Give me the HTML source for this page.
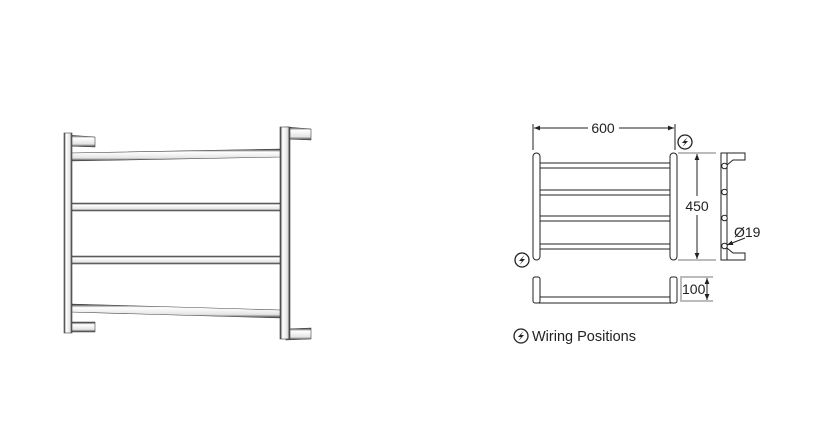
<!DOCTYPE html>
<html><head><style>
html,body{margin:0;padding:0;background:#fff;}
svg{display:block;}
text{font-family:"Liberation Sans",sans-serif;fill:#222;}
</style></head><body>
<svg width="840" height="435" viewBox="0 0 840 435" xmlns="http://www.w3.org/2000/svg">
<defs>
<linearGradient id="gv" x1="0" x2="1" y1="0" y2="0">
<stop offset="0" stop-color="#222"/><stop offset="0.25" stop-color="#fff"/><stop offset="0.75" stop-color="#e4e4e4"/><stop offset="1" stop-color="#222"/>
</linearGradient>
<linearGradient id="gh" x1="0" x2="0" y1="0" y2="1">
<stop offset="0" stop-color="#222"/><stop offset="0.25" stop-color="#fff"/><stop offset="0.75" stop-color="#e4e4e4"/><stop offset="1" stop-color="#333"/>
</linearGradient>
<marker id="ar" viewBox="0 0 10 10" refX="10" refY="5" markerWidth="6" markerHeight="6" orient="auto-start-reverse"><path d="M0,1 L10,5 L0,9 z" fill="#222"/></marker>
<symbol id="bolt" viewBox="-8 -8 16 16"><circle r="7" fill="#fff" stroke="#222" stroke-width="1.3"/><path d="M2.5,-5 L-3,1 L0,1 L-2.5,5 L3,-1 L0,-1 z" fill="#222"/></symbol>
</defs>

<!-- Left rendered rail -->
<g stroke="#444" stroke-width="0.6">
<polygon points="66,146 66,135 95,137 95,147" fill="url(#gh)"/>
<polygon points="66,332 66,322 95,322 95,332" fill="url(#gh)"/>
<polygon points="286,139 286,127 311,129 311,140" fill="url(#gh)"/>
<polygon points="286,340 286,329 311,328 311,339" fill="url(#gh)"/>
<polygon points="70,153 281,149 281,157 70,161" fill="url(#gh)"/>
<polygon points="70,203 281,203 281,211 70,211" fill="url(#gh)"/>
<polygon points="70,256 281,256 281,264 70,264" fill="url(#gh)"/>
<polygon points="70,304 281,310 281,318 70,312" fill="url(#gh)"/>
<rect x="64" y="133" width="8" height="200" fill="url(#gv)"/>
<rect x="280" y="127" width="10" height="212" fill="url(#gv)"/>
</g>

<!-- Front view -->
<g stroke="#222" fill="#fff" stroke-width="1">
<line x1="533" y1="124" x2="533" y2="150"/>
<line x1="675" y1="124" x2="675" y2="150"/>
<line x1="534" y1="128" x2="588" y2="128" marker-start="url(#ar)"/>
<line x1="619" y1="128" x2="674" y2="128" marker-end="url(#ar)"/>
<rect x="539" y="163" width="132" height="5"/>
<rect x="539" y="190" width="132" height="5"/>
<rect x="539" y="216" width="132" height="5"/>
<rect x="539" y="244" width="132" height="5"/>
<rect x="533" y="153" width="7" height="107" rx="3.5"/>
<rect x="670" y="153" width="7" height="107" rx="3.5"/>
<line x1="678" y1="153" x2="716" y2="153" stroke="#777"/>
<line x1="678" y1="260" x2="716" y2="260" stroke="#777"/>
<line x1="697" y1="154" x2="697" y2="196" marker-start="url(#ar)"/>
<line x1="697" y1="215" x2="697" y2="259" marker-end="url(#ar)"/>
<rect x="721" y="153" width="6" height="107"/>
<polyline points="721,153 745,153 745,160 733,160 727,165" fill="none"/>
<polyline points="721,260 745,260 745,253 733,253 727,248" fill="none"/>
<circle cx="724.5" cy="166" r="2.8"/>
<circle cx="724.5" cy="192" r="2.8"/>
<circle cx="724.5" cy="218" r="2.8"/>
<circle cx="724.5" cy="246" r="2.8"/>
<line x1="745" y1="238" x2="727" y2="245" marker-end="url(#ar)"/>
<rect x="539" y="297" width="132" height="6"/>
<rect x="533" y="277" width="7" height="26" rx="2"/>
<rect x="670" y="277" width="7" height="26" rx="2"/>
<line x1="680" y1="277" x2="713" y2="277" stroke="#777"/>
<line x1="680" y1="301" x2="713" y2="301" stroke="#777"/>
<line x1="681" y1="278" x2="681" y2="300" stroke="#777"/>
<line x1="707" y1="278" x2="707" y2="300" marker-start="url(#ar)" marker-end="url(#ar)"/>
</g>
<text x="603" y="133" font-size="14" text-anchor="middle">600</text>
<text x="697" y="211" font-size="14" text-anchor="middle">450</text>
<text x="734" y="237" font-size="14">Ø19</text>
<text x="682" y="294" font-size="14">100</text>
<use href="#bolt" x="677" y="134" width="16" height="16"/>
<use href="#bolt" x="514" y="252" width="16" height="16"/>
<use href="#bolt" x="513" y="328" width="16" height="16"/>
<text x="532" y="341" font-size="14.5">Wiring Positions</text>
</svg>
</body></html>
